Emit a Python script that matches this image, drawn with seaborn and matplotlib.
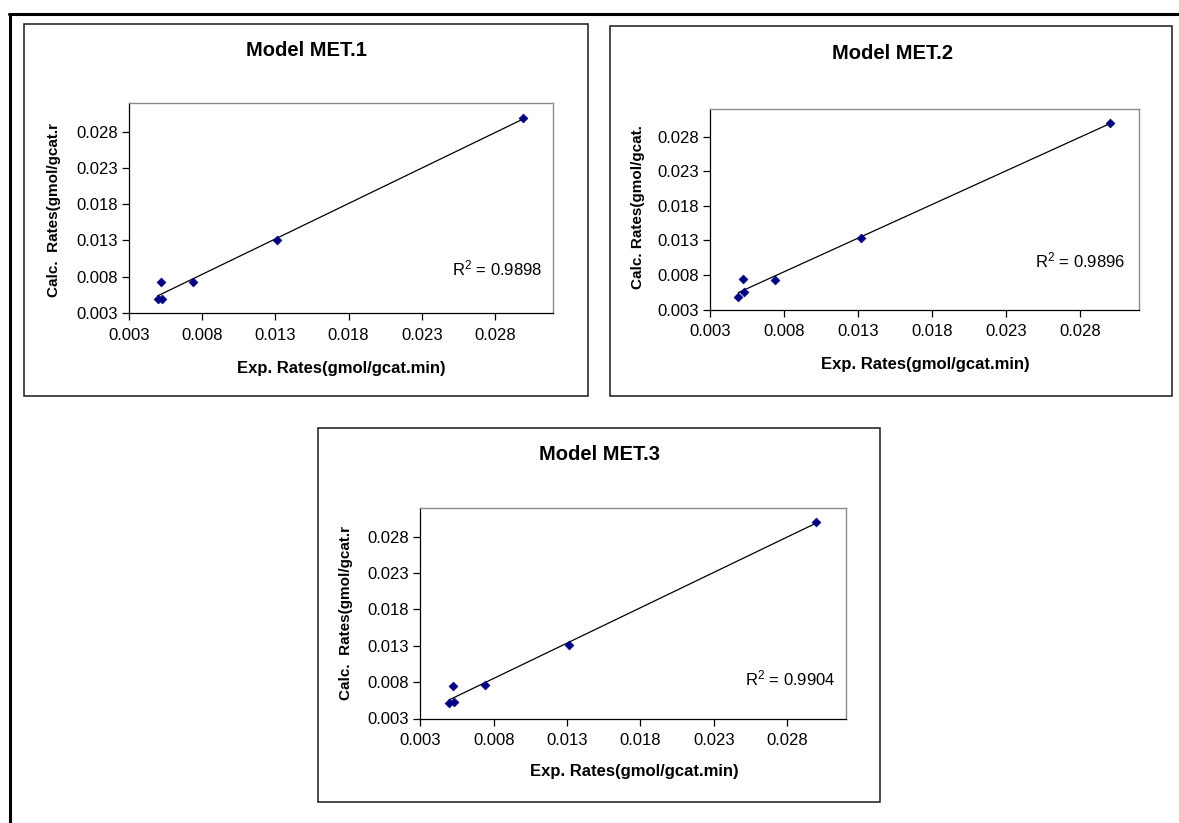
import matplotlib
matplotlib.use("Agg")
import matplotlib.pyplot as plt
from matplotlib.patches import Rectangle
from matplotlib.lines import Line2D
import numpy as np
import pandas as pd
import seaborn as sns

# ---------------- data ----------------
titles = ["Model MET.1", "Model MET.2", "Model MET.3"]
r2_labels = ["R$^2$ = 0.9898", "R$^2$ = 0.9896", "R$^2$ = 0.9904"]
ylabels = ["Calc.  Rates(gmol/gcat.r", "Calc. Rates(gmol/gcat.", "Calc.  Rates(gmol/gcat.r"]
xlabel = "Exp. Rates(gmol/gcat.min)"
tick_values = [0.003, 0.008, 0.013, 0.018, 0.023, 0.028]
tick_labels = ["0.003", "0.008", "0.013", "0.018", "0.023", "0.028"]
axis_min = 0.003
axis_max = 0.032

exp_met1 = [0.00496, 0.00528, 0.00517, 0.00739, 0.01311, 0.02995]
calc_met1 = [0.00489, 0.00489, 0.00732, 0.00732, 0.01312, 0.02984]
exp_met2 = [0.00491, 0.00528, 0.00521, 0.00739, 0.01318, 0.03003]
calc_met2 = [0.00483, 0.00551, 0.00742, 0.00723, 0.01337, 0.03000]
exp_met3 = [0.00498, 0.00530, 0.00521, 0.00741, 0.01314, 0.02997]
calc_met3 = [0.00511, 0.00529, 0.00745, 0.00755, 0.01314, 0.03000]

series = [(exp_met1, calc_met1), (exp_met2, calc_met2), (exp_met3, calc_met3)]

# ---------------- style ----------------
sns.set_theme(style="white")
plt.rcParams["font.family"] = ["Liberation Sans", "DejaVu Sans"]
plt.rcParams["mathtext.fontset"] = "custom"
plt.rcParams["mathtext.rm"] = "Liberation Sans"
plt.rcParams["mathtext.it"] = "Liberation Sans"
plt.rcParams["mathtext.default"] = "rm"

W, H = 1179, 823
fig = plt.figure(figsize=(W / 100, H / 100), dpi=100)
fig.patch.set_facecolor("white")

def fx(x):
    return x / W

def fy(y):
    return 1 - y / H

# page border (top + left)
fig.add_artist(Line2D([fx(9), fx(1179)], [fy(14), fy(14)], color="black", lw=2.2,
                      transform=fig.transFigure))
fig.add_artist(Line2D([fx(10), fx(10)], [fy(14), fy(823)], color="black", lw=2.2,
                      transform=fig.transFigure))

# chart boxes (left, top, right, bottom) in pixels
boxes = [(24, 23.5, 588, 396), (609.5, 26, 1172, 396), (317.5, 428, 880, 802)]
for (l, t, r, b) in boxes:
    fig.add_artist(Rectangle((fx(l), fy(b)), fx(r) - fx(l), (b - t) / H,
                             transform=fig.transFigure, fill=False,
                             edgecolor="#1a1a1a", lw=1.1))

# plot areas (left, top, right, bottom) in pixels
areas = [(129, 102.5, 553.4, 313), (710, 109, 1139.3, 309.7), (420.3, 507.5, 845.9, 718.5)]
# text positions in axes fraction: title, ylabel, xlabel, r2
title_pos = [(0.417, 1.245), (0.424, 1.279), (0.4222, 1.249)]
ylabel_pos = [(-0.1767, 0.489), (-0.1677, 0.509), (-0.1746, 0.5)]
xlabel_pos = [(0.5007, -0.2613), (0.5027, -0.2755), (0.502, -0.2521)]
r2_pos = [(0.867, 0.2138), (0.863, 0.2476), (0.87, 0.1905)]

for i, ((l, t, r, b), (xv, yv)) in enumerate(zip(areas, series)):
    ax = fig.add_axes([fx(l), fy(b), (r - l) / W, (b - t) / H])
    df = pd.DataFrame({"exp": xv, "calc": yv})
    sns.regplot(data=df, x="exp", y="calc", ax=ax, ci=None, marker="D",
                scatter_kws=dict(s=20, color="#000080", edgecolors="#000080",
                                 linewidths=0.5, alpha=1, zorder=3),
                line_kws=dict(color="black", lw=0.9, zorder=2))
    ax.set_xlim(axis_min, axis_max)
    ax.set_ylim(axis_min, axis_max)
    ax.set_xticks(tick_values)
    ax.set_xticklabels(tick_labels)
    ax.set_yticks(tick_values)
    ax.set_yticklabels(tick_labels)
    ax.tick_params(axis="both", direction="out", length=5, width=0.9, color="black",
                   labelsize=12, labelcolor="black", bottom=True, left=True)
    ax.tick_params(axis="x", pad=5.5)
    ax.tick_params(axis="y", pad=3)
    ax.set_facecolor("white")
    for s in ["top", "right"]:
        ax.spines[s].set_color("#8c8c8c")
        ax.spines[s].set_linewidth(1.0)
    for s in ["left", "bottom"]:
        ax.spines[s].set_color("black")
        ax.spines[s].set_linewidth(0.9)
    ax.grid(False)

    ax.set_xlabel(xlabel, fontsize=12, fontweight="bold", color="black")
    ax.xaxis.set_label_coords(*xlabel_pos[i])
    ax.xaxis.label.set_verticalalignment("center")
    ax.set_ylabel(ylabels[i], fontsize=11, fontweight="bold", color="black")
    ax.yaxis.set_label_coords(*ylabel_pos[i])
    ax.yaxis.label.set_verticalalignment("center")
    ax.yaxis.label.set_horizontalalignment("center")

    ax.set_title(titles[i], fontsize=14.5, fontweight="bold", color="black",
                 x=title_pos[i][0], y=title_pos[i][1], va="center", pad=0)
    ax.text(r2_pos[i][0], r2_pos[i][1], r2_labels[i], transform=ax.transAxes,
            ha="center", va="center", fontsize=12, color="black")

fig.savefig("out.png", dpi=100, facecolor="white")
